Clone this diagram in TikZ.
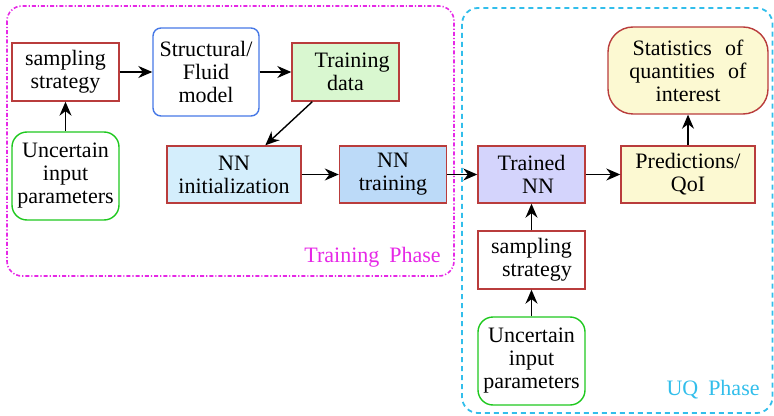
\documentclass[tikz,border=0pt]{standalone}
\usepackage{fontspec}
\setmainfont{Liberation Serif}
\usetikzlibrary{arrows.meta,calc}
\definecolor{bred}{RGB}{185,60,60}
\definecolor{bblue}{RGB}{70,120,230}
\definecolor{bgreen}{RGB}{30,200,30}
\definecolor{fgreen}{RGB}{217,247,208}
\definecolor{fblue1}{RGB}{212,238,252}
\definecolor{fblue2}{RGB}{188,218,248}
\definecolor{flav}{RGB}{212,212,252}
\definecolor{fyel}{RGB}{252,249,210}
\definecolor{mag}{RGB}{230,40,230}
\definecolor{cyn}{RGB}{50,190,235}
\tikzset{
  base/.style={draw, line width=0.7pt, align=center, inner sep=1pt,
    font=\fontsize{11}{11.5}\selectfont},
  boxr/.style={base, draw=bred, minimum width=53.5pt, minimum height=29pt},
  modelbox/.style={base, draw=bblue, rounded corners=4pt, minimum width=53pt, minimum height=44pt},
  inbox/.style={base, draw=bgreen, rounded corners=7.5pt, minimum width=53.5pt, minimum height=44pt},
  statbox/.style={base, draw=bred, fill=fyel, rounded corners=12.5pt, minimum width=80pt, minimum height=43.5pt},
  arr/.style={-{Stealth[length=7pt,width=6pt]}, line width=0.7pt},
  phase/.style={font=\fontsize{11}{12}\selectfont, inner sep=0pt}
}
\begin{document}
\begin{tikzpicture}[x=0.5pt,y=-0.5pt]
\useasboundingbox (0,0) rectangle (774,416);
% phase frames
\draw[mag, line width=0.8pt, rounded corners=7.5pt, dash pattern=on 2pt off 1pt on 0.6pt off 1pt] (7,6) rectangle (454,276);
\draw[cyn, line width=0.9pt, rounded corners=8pt, dash pattern=on 2.5pt off 2pt] (462,8) rectangle (772.5,413);
\node[phase, text=mag, anchor=base east] (tlab) at (441,263) {Training\hspace{0.45em}Phase};
\node[phase, text=cyn, anchor=base east] (ulab) at (760,395) {UQ\hspace{0.45em}Phase};
% nodes
\node[boxr] (ss1) at (65.5,72) {sampling\\strategy};
\node[modelbox] (sf) at (206,72) {Structural/\\Fluid\\model};
\node[boxr, fill=fgreen] (td) at (345.5,72) {\hspace{0.6em}Training\\data};
\node[inbox] (u1) at (65.5,176) {Uncertain\\input\\parameters};
\node[boxr, fill=fblue1, minimum width=67pt, minimum height=28.5pt] (ni) at (234,174.5) {NN\\initialization};
\node[boxr, fill=fblue2, minimum height=28.5pt] (nt) at (393,174.5) {NN\\training};
\node[boxr, fill=flav, minimum height=28.5pt] (tn) at (531.5,174.5) {Trained\\\hspace{0.6em}NN};
\node[boxr, fill=fyel, minimum width=67pt, minimum height=28.5pt] (pq) at (688,174.5) {Predictions/\\QoI};
\node[statbox] (st) at (688,70.5) {Statistics\hspace{0.6em}of\\quantities\hspace{0.6em}of\\interest};
\node[boxr] (ss2) at (531.5,260) {sampling\\\hspace{0.5em}strategy};
\node[inbox] (u2) at (531.5,361) {Uncertain\\input\\parameters};
% arrows
\coordinate (tdo) at ($(td.south west)+(21,0)$);
\coordinate (nii) at ($(ni.north west)+(99,0)$);
\draw[arr] (tdo) -- (nii);
\draw[arr] (ss1) -- (sf);
\draw[arr] (sf) -- (td);
\draw[arr] (u1) -- (ss1);
\draw[arr] (ni) -- (nt);
\draw[arr] (nt) -- (tn);
\draw[arr] (tn) -- (pq);
\draw[arr] (pq) -- (st);
\draw[arr] (ss2) -- (tn);
\draw[arr] (u2) -- (ss2);
\end{tikzpicture}
\end{document}
